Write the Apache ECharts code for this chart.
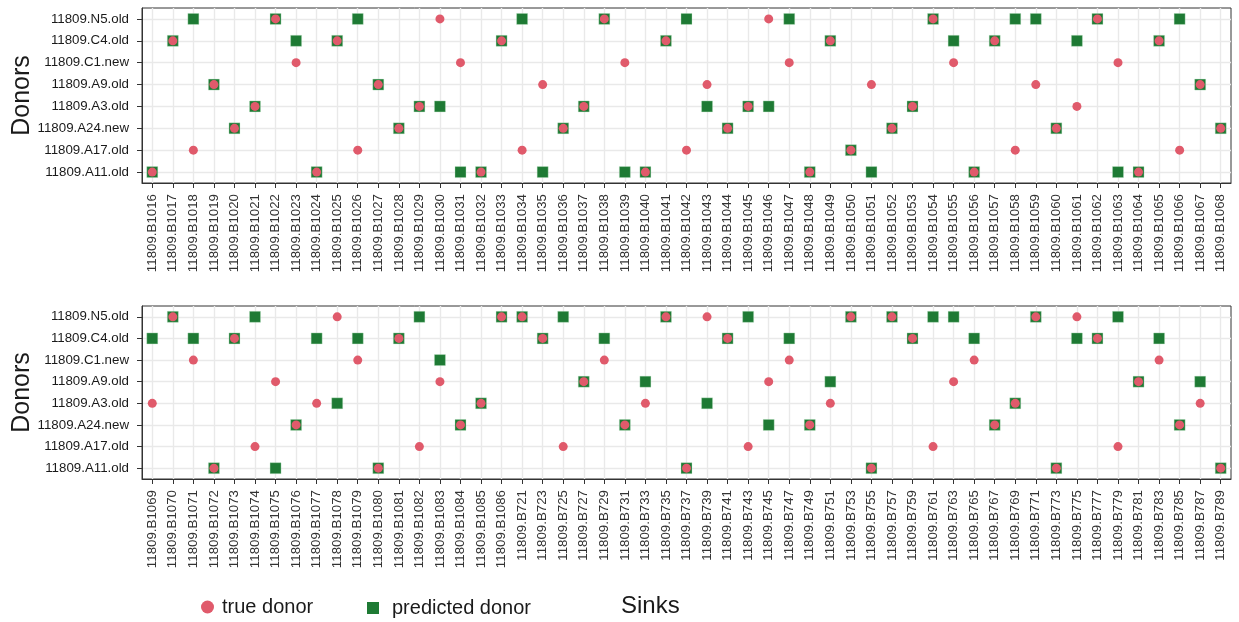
<!DOCTYPE html>
<html>
<head>
<meta charset="utf-8">
<script src="https://cdn.jsdelivr.net/npm/echarts@6/dist/echarts.min.js"></script>
<style>
  html, body { margin: 0; padding: 0; background: #fff; }
  #chart { width: 1239px; height: 622px; }
</style>
</head>
<body>
<div id="chart"></div>
<script>
// Donors, bottom to top on the y axis
const donors = ['11809.A11.old', '11809.A17.old', '11809.A24.new', '11809.A3.old',
                '11809.A9.old', '11809.C1.new', '11809.C4.old', '11809.N5.old'];

const sinksTop = ['11809.B1016','11809.B1017','11809.B1018','11809.B1019','11809.B1020','11809.B1021','11809.B1022','11809.B1023','11809.B1024','11809.B1025','11809.B1026','11809.B1027','11809.B1028','11809.B1029','11809.B1030','11809.B1031','11809.B1032','11809.B1033','11809.B1034','11809.B1035','11809.B1036','11809.B1037','11809.B1038','11809.B1039','11809.B1040','11809.B1041','11809.B1042','11809.B1043','11809.B1044','11809.B1045','11809.B1046','11809.B1047','11809.B1048','11809.B1049','11809.B1050','11809.B1051','11809.B1052','11809.B1053','11809.B1054','11809.B1055','11809.B1056','11809.B1057','11809.B1058','11809.B1059','11809.B1060','11809.B1061','11809.B1062','11809.B1063','11809.B1064','11809.B1065','11809.B1066','11809.B1067','11809.B1068'];

const sinksBottom = ['11809.B1069','11809.B1070','11809.B1071','11809.B1072','11809.B1073','11809.B1074','11809.B1075','11809.B1076','11809.B1077','11809.B1078','11809.B1079','11809.B1080','11809.B1081','11809.B1082','11809.B1083','11809.B1084','11809.B1085','11809.B1086','11809.B721','11809.B723','11809.B725','11809.B727','11809.B729','11809.B731','11809.B733','11809.B735','11809.B737','11809.B739','11809.B741','11809.B743','11809.B745','11809.B747','11809.B749','11809.B751','11809.B753','11809.B755','11809.B757','11809.B759','11809.B761','11809.B763','11809.B765','11809.B767','11809.B769','11809.B771','11809.B773','11809.B775','11809.B777','11809.B779','11809.B781','11809.B783','11809.B785','11809.B787','11809.B789'];

// true donor per sink (top panel)
const trueTop = ['A11.old','C4.old','A17.old','A9.old','A24.new','A3.old','N5.old','C1.new','A11.old','C4.old',
                 'A17.old','A9.old','A24.new','A3.old','N5.old','C1.new','A11.old','C4.old','A17.old','A9.old',
                 'A24.new','A3.old','N5.old','C1.new','A11.old','C4.old','A17.old','A9.old','A24.new','A3.old',
                 'N5.old','C1.new','A11.old','C4.old','A17.old','A9.old','A24.new','A3.old','N5.old','C1.new',
                 'A11.old','C4.old','A17.old','A9.old','A24.new','A3.old','N5.old','C1.new','A11.old','C4.old',
                 'A17.old','A9.old','A24.new'];
// predicted donor per sink (top panel)
const predTop = ['A11.old','C4.old','N5.old','A9.old','A24.new','A3.old','N5.old','C4.old','A11.old','C4.old',
                 'N5.old','A9.old','A24.new','A3.old','A3.old','A11.old','A11.old','C4.old','N5.old','A11.old',
                 'A24.new','A3.old','N5.old','A11.old','A11.old','C4.old','N5.old','A3.old','A24.new','A3.old',
                 'A3.old','N5.old','A11.old','C4.old','A17.old','A11.old','A24.new','A3.old','N5.old','C4.old',
                 'A11.old','C4.old','N5.old','N5.old','A24.new','C4.old','N5.old','A11.old','A11.old','C4.old',
                 'N5.old','A9.old','A24.new'];
// true donor per sink (bottom panel)
const trueBottom = ['A3.old','N5.old','C1.new','A11.old','C4.old','A17.old','A9.old','A24.new','A3.old','N5.old',
                    'C1.new','A11.old','C4.old','A17.old','A9.old','A24.new','A3.old','N5.old','N5.old','C4.old',
                    'A17.old','A9.old','C1.new','A24.new','A3.old','N5.old','A11.old','N5.old','C4.old','A17.old',
                    'A9.old','C1.new','A24.new','A3.old','N5.old','A11.old','N5.old','C4.old','A17.old','A9.old',
                    'C1.new','A24.new','A3.old','N5.old','A11.old','N5.old','C4.old','A17.old','A9.old','C1.new',
                    'A24.new','A3.old','A11.old'];
// predicted donor per sink (bottom panel)
const predBottom = ['C4.old','N5.old','C4.old','A11.old','C4.old','N5.old','A11.old','A24.new','C4.old','A3.old',
                    'C4.old','A11.old','C4.old','N5.old','C1.new','A24.new','A3.old','N5.old','N5.old','C4.old',
                    'N5.old','A9.old','C4.old','A24.new','A9.old','N5.old','A11.old','A3.old','C4.old','N5.old',
                    'A24.new','C4.old','A24.new','A9.old','N5.old','A11.old','N5.old','C4.old','N5.old','N5.old',
                    'C4.old','A24.new','A3.old','N5.old','A11.old','C4.old','C4.old','N5.old','A9.old','C4.old',
                    'A24.new','A9.old','A11.old'];

const prefix = '11809.';
const pairs = (sinks, d) => sinks.map((s, i) => [s, prefix + d[i]]);

const FONT = 'Liberation Sans, Arial, Helvetica, sans-serif';
const RED = '#e05a6b';
const GREEN = '#1e7a34';
const TEXT = '#1a1a1a';

function xAxisFor(gridIndex, sinks) {
  return {
    type: 'category', gridIndex, data: sinks, boundaryGap: true,
    axisLine: { show: true, lineStyle: { color: '#333', width: 1 } },
    axisTick: { show: true, alignWithLabel: true, length: 5, lineStyle: { color: '#333', width: 1 } },
    axisLabel: { rotate: 90, interval: 0, fontSize: 13.3, color: '#333', fontFamily: FONT, margin: 11 },
    splitLine: { show: true, alignWithLabel: true, lineStyle: { color: '#e9e9e9', width: 1.4 } }
  };
}
function yAxisFor(gridIndex) {
  return {
    type: 'category', gridIndex, data: donors, boundaryGap: true,
    name: 'Donors', nameLocation: 'middle', nameGap: 107, nameRotate: 90, nameMoveOverlap: false,
    nameTextStyle: { fontSize: 25, color: TEXT, fontFamily: FONT },
    axisLine: { show: true, lineStyle: { color: '#333', width: 1 } },
    axisTick: { show: true, alignWithLabel: true, length: 5, lineStyle: { color: '#333', width: 1 } },
    axisLabel: { interval: 0, fontSize: 13.3, color: TEXT, fontFamily: FONT, margin: 13 },
    splitLine: { show: true, alignWithLabel: true, lineStyle: { color: '#e9e9e9', width: 1.4 } }
  };
}
function squareSeries(x, y, data) {
  return {
    name: 'predicted donor', type: 'scatter', xAxisIndex: x, yAxisIndex: y,
    symbol: 'rect', symbolSize: 11, data,
    itemStyle: { color: GREEN, opacity: 1, borderColor: 'rgba(190,230,200,0.6)', borderWidth: 0.6 },
    z: 2
  };
}
function circleSeries(x, y, data) {
  return {
    name: 'true donor', type: 'scatter', xAxisIndex: x, yAxisIndex: y,
    symbol: 'circle', symbolSize: 9, data,
    itemStyle: { color: RED, opacity: 1 },
    z: 3
  };
}

const gridCommon = { left: 142, right: 8, show: true, borderColor: '#333', borderWidth: 1,
                     backgroundColor: 'transparent', containLabel: false, outerBoundsMode: 'none' };

const chart = echarts.init(document.getElementById('chart'), null, { renderer: 'canvas' });
chart.setOption({
  animation: false,
  backgroundColor: '#fff',
  textStyle: { fontFamily: FONT },
  grid: [
    Object.assign({ top: 8, height: 175 }, gridCommon),
    Object.assign({ top: 306, height: 173 }, gridCommon)
  ],
  xAxis: [xAxisFor(0, sinksTop), xAxisFor(1, sinksBottom)],
  yAxis: [yAxisFor(0), yAxisFor(1)],
  legend: [
    {
      data: [{ name: 'true donor', icon: 'circle', itemStyle: { color: RED, opacity: 1 } }],
      left: 201, top: 597, padding: 0, itemWidth: 13, itemHeight: 13, itemGap: 0,
      textStyle: { fontSize: 20, color: TEXT, fontFamily: FONT, padding: [0, 0, 0, 3] },
      selectedMode: false
    },
    {
      data: [{ name: 'predicted donor', icon: 'rect', itemStyle: { color: GREEN, opacity: 1, borderWidth: 0 } }],
      left: 367, top: 598, padding: 0, itemWidth: 12, itemHeight: 12,
      textStyle: { fontSize: 20, color: TEXT, fontFamily: FONT, padding: [0, 0, 0, 8] },
      selectedMode: false
    }
  ],
  title: {
    text: 'Sinks', left: 621, top: 594, padding: 0,
    textStyle: { fontSize: 24, fontWeight: 'normal', color: TEXT, fontFamily: FONT }
  },
  series: [
    squareSeries(0, 0, pairs(sinksTop, predTop)),
    circleSeries(0, 0, pairs(sinksTop, trueTop)),
    squareSeries(1, 1, pairs(sinksBottom, predBottom)),
    circleSeries(1, 1, pairs(sinksBottom, trueBottom))
  ]
});
</script>
</body>
</html>
